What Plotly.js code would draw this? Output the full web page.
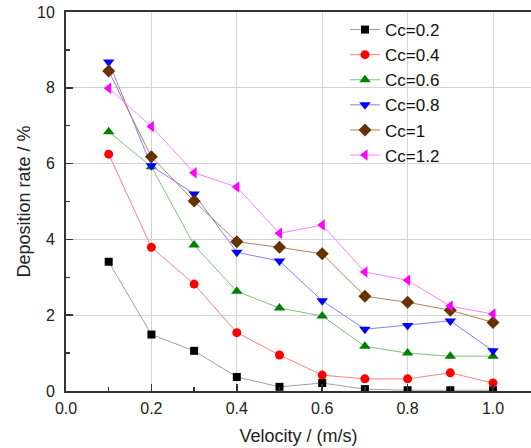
<!DOCTYPE html>
<html>
<head>
<meta charset="utf-8">
<script src="https://cdn.plot.ly/plotly-3.0.1.min.js"></script>
<style>html,body{margin:0;padding:0;background:#fff;}#chart{width:531px;height:448px;}</style>
</head>
<body>
<div id="chart"></div>
<script>
var velocity = [0.1, 0.2, 0.3, 0.4, 0.5, 0.6, 0.7, 0.8, 0.9, 1.0];
var cc02 = [3.41, 1.49, 1.06, 0.37, 0.11, 0.21, 0.05, 0.02, 0.02, 0.02];
var cc04 = [6.25, 3.79, 2.82, 1.54, 0.95, 0.42, 0.32, 0.32, 0.48, 0.21];
var cc06 = [6.84, 5.92, 3.85, 2.63, 2.19, 1.98, 1.18, 1.00, 0.92, 0.92];
var cc08 = [8.68, 5.94, 5.20, 3.66, 3.43, 2.38, 1.63, 1.73, 1.85, 1.06];
var cc10 = [8.44, 6.18, 5.01, 3.94, 3.79, 3.62, 2.50, 2.34, 2.13, 1.81];
var cc12 = [7.99, 6.98, 5.76, 5.38, 4.16, 4.38, 3.14, 2.92, 2.24, 2.03];
var seriesNames = ['Cc=0.2', 'Cc=0.4', 'Cc=0.6', 'Cc=0.8', 'Cc=1', 'Cc=1.2'];
var seriesValues = [cc02, cc04, cc06, cc08, cc10, cc12];
var markerColors = ['#000000', '#ff0000', '#008000', '#0000ff', '#663300', '#ff00ff'];
var lineColors = ['#a0a0a0', '#ff8080', '#80c080', '#8080ff', '#b08060', '#ff80ff'];
var symbols = ['square', 'circle', 'triangle-up', 'triangle-down', 'diamond', 'triangle-left'];
var sizes = [8, 9, 10, 10, 10, 10];

var traces = seriesValues.map(function (vals, i) {
  return {
    x: velocity, y: vals, name: seriesNames[i], type: 'scatter', mode: 'lines+markers',
    line: {color: lineColors[i], width: 1},
    marker: {color: markerColors[i], symbol: symbols[i], size: sizes[i]}
  };
});

var layout = {
  width: 531, height: 448,
  margin: {l: 66, r: 0, t: 12, b: 57},
  paper_bgcolor: '#ffffff', plot_bgcolor: '#ffffff',
  font: {family: 'Liberation Sans, Arial, sans-serif', color: '#222'},
  showlegend: true,
  legend: {x: 0.6, y: 1.0, xanchor: 'left', yanchor: 'top', bgcolor: 'rgba(0,0,0,0)',
    font: {size: 17, color: '#111'}, tracegroupgap: 0},
  xaxis: {
    range: [0, 1.089], tickvals: [0, 0.2, 0.4, 0.6, 0.8, 1.0],
    ticktext: ['0.0', '0.2', '0.4', '0.6', '0.8', '1.0'],
    showgrid: true, gridcolor: '#d4d4d4', gridwidth: 1,
    showline: true, linecolor: '#333', linewidth: 2, mirror: true,
    ticks: 'inside', ticklen: 7, tickcolor: '#333', tickwidth: 1.5,
    minor: {dtick: 0.1, tick0: 0, ticks: 'inside', ticklen: 4, tickcolor: '#333', showgrid: false},
    zeroline: false, tickfont: {size: 16}, ticklabelstandoff: 2,
    title: {text: 'Velocity / (m/s)', font: {size: 18}, standoff: 13}
  },
  yaxis: {
    range: [0, 10], tickvals: [0, 2, 4, 6, 8, 10],
    showgrid: true, gridcolor: '#d4d4d4', gridwidth: 1,
    showline: true, linecolor: '#333', linewidth: 2, mirror: false,
    ticks: 'inside', ticklen: 7, tickcolor: '#333', tickwidth: 1.5,
    minor: {dtick: 1, tick0: 0, ticks: 'inside', ticklen: 4, tickcolor: '#333', showgrid: false},
    zeroline: false, tickfont: {size: 16}, ticklabelstandoff: 6,
    title: {text: 'Deposition rate / %', font: {size: 18}, standoff: 2}
  }
};

Plotly.newPlot('chart', traces, layout, {displayModeBar: false, staticPlot: true});
</script>
</body>
</html>
